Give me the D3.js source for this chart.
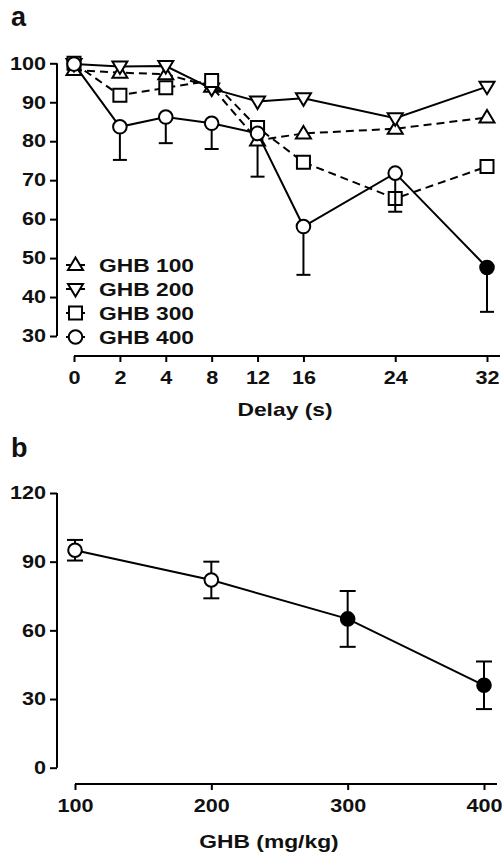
<!DOCTYPE html>
<html>
<head>
<meta charset="utf-8">
<script src="https://cdn.jsdelivr.net/npm/d3@7"></script>
<style>
  html, body { margin: 0; padding: 0; background: #fff; }
  svg { display: block; }
  text { font-family: "Liberation Sans", Arial, Helvetica, sans-serif; font-weight: bold; fill: #111; }
</style>
</head>
<body>
<svg id="chart" width="503" height="856"></svg>
<script>
// ---------- Data: panel a ----------
const delays = [0, 2, 4, 8, 12, 16, 24, 32];
const delaySlots = [0, 1, 2, 3, 4, 5, 7, 9]; // ordinal spacing used on the x axis
const ghb100 = [98.3, 97.6, 97.2, 94.0, 80.2, 82.0, 83.2, 86.1];
const ghb100Err = [0, 0, 0, 0, 9.3, 0, 0, 0];
const ghb200 = [99.8, 99.2, 99.3, 93.5, 90.2, 91.0, 85.9, 94.0];
const ghb300 = [100, 91.8, 93.7, 95.6, 83.5, 74.6, 65.3, 73.5];
const ghb400 = [99.8, 83.7, 86.2, 84.6, 82.0, 58.1, 71.8, 47.6];
const ghb400Err = [0, 8.5, 6.7, 6.6, 0, 12.4, 9.9, 11.4];
const ghb400Sig = [false, false, false, false, false, false, false, true];
const seriesNames = ["GHB 100", "GHB 200", "GHB 300", "GHB 400"];
const yTicksA = [30, 40, 50, 60, 70, 80, 90, 100];

// ---------- Data: panel b ----------
const doses = [100, 200, 300, 400];
const doseMeans = [95.0, 82.0, 65.0, 36.0];
const doseErr = [4.5, 8.0, 12.2, 10.4];
const doseSig = [false, false, true, true];
const yTicksB = [0, 30, 60, 90, 120];

const svg = d3.select("#chart");

// ---------- Marker shapes ----------
function markerPath(type) {
  if (type === "up") return "M0,-7.5L7.5,5L-7.5,5Z";
  if (type === "down") return "M0,7.5L7.5,-5L-7.5,-5Z";
  if (type === "square") return "M-6.5,-6.5H6.5V6.5H-6.5Z";
  return null;
}
function drawMarker(g, type, x, y, filled) {
  if (type === "circle") {
    g.append("circle").attr("cx", x).attr("cy", y).attr("r", 6.8)
      .attr("fill", filled ? "#000" : "#fff").attr("stroke", "#000").attr("stroke-width", 2);
  } else {
    g.append("path").attr("d", markerPath(type))
      .attr("transform", `translate(${x},${y})`)
      .attr("fill", filled ? "#000" : "#fff").attr("stroke", "#000").attr("stroke-width", 2)
      .attr("stroke-linejoin", "miter");
  }
}

function styleAxis(g) {
  g.selectAll(".tick line").attr("stroke", "#000").attr("stroke-width", 2);
  g.selectAll(".tick text").style("font-size", "18px").style("font-weight", "bold")
    .style("font-family", '"Liberation Sans", Arial, sans-serif').attr("fill", "#111")
    .classed("wide", true);
  g.select(".domain").remove();
}

// ================= Panel a =================
const xA = d3.scaleLinear()
  .domain(delays)
  .range(delaySlots.map(s => 74 + s * (413 / 9)));
const yA = d3.scaleLinear().domain([30, 100]).range([336, 63.3]);

svg.append("text").attr("x", 11).attr("y", 26).style("font-size", "27px").text("a");

// y axis
const yAxisA = svg.append("g").attr("transform", "translate(57,0)")
  .call(d3.axisLeft(yA).tickValues(yTicksA).tickSize(7).tickPadding(4).tickFormat(d3.format("d")));
styleAxis(yAxisA);
yAxisA.append("line").attr("x1", 0).attr("x2", 0).attr("y1", yA(100)).attr("y2", yA(30))
  .attr("stroke", "#000").attr("stroke-width", 2);

// x axis
const xAxisA = svg.append("g").attr("transform", "translate(0,356)")
  .call(d3.axisBottom(xA).tickValues(delays).tickSize(6).tickPadding(9).tickFormat(d3.format("d")));
styleAxis(xAxisA);
xAxisA.append("line").attr("x1", xA(0)).attr("x2", xA(32) + 13).attr("y1", 0).attr("y2", 0)
  .attr("stroke", "#000").attr("stroke-width", 2);

svg.append("text").attr("class", "wide").attr("x", 285).attr("y", 416).attr("text-anchor", "middle")
  .style("font-size", "19px").text("Delay (s)");

const seriesA = [
  { name: seriesNames[0], vals: ghb100, err: ghb100Err, type: "up", dash: "8,5" },
  { name: seriesNames[1], vals: ghb200, err: null, type: "down", dash: null },
  { name: seriesNames[2], vals: ghb300, err: null, type: "square", dash: "8,5" },
  { name: seriesNames[3], vals: ghb400, err: ghb400Err, type: "circle", dash: null, sig: ghb400Sig }
];

const lineA = d3.line().x(d => xA(d[0])).y(d => yA(d[1]));

seriesA.forEach(s => {
  const g = svg.append("g");
  const pts = delays.map((d, i) => [d, s.vals[i]]);
  g.append("path").attr("d", lineA(pts)).attr("fill", "none").attr("stroke", "#000")
    .attr("stroke-width", 2).attr("stroke-dasharray", s.dash);
  if (s.err) {
    delays.forEach((d, i) => {
      if (!s.err[i]) return;
      const x = xA(d), y0 = yA(s.vals[i]), y1 = yA(s.vals[i] - s.err[i]);
      g.append("line").attr("x1", x).attr("x2", x).attr("y1", y0).attr("y2", y1)
        .attr("stroke", "#000").attr("stroke-width", 2);
      g.append("line").attr("x1", x - 7).attr("x2", x + 7).attr("y1", y1).attr("y2", y1)
        .attr("stroke", "#000").attr("stroke-width", 2);
    });
  }
  delays.forEach((d, i) => drawMarker(g, s.type, xA(d), yA(s.vals[i]), s.sig ? s.sig[i] : false));
});

// legend
const legendRowY = d3.scalePoint().domain(seriesNames).range([265, 337]);
seriesA.forEach(s => {
  const cy = legendRowY(s.name);
  const g = svg.append("g");
  g.append("line").attr("x1", 66).attr("x2", 85).attr("y1", cy).attr("y2", cy)
    .attr("stroke", "#000").attr("stroke-width", 2);
  drawMarker(g, s.type, 75.5, cy, false);
  g.append("text").attr("class", "wide").attr("x", 99).attr("y", cy + 7)
    .style("font-size", "19px").text(s.name);
});

// ================= Panel b =================
const xB = d3.scaleLinear().domain([100, 400]).range([75, 484]);
const yB = d3.scaleLinear().domain([0, 120]).range([767.7, 493]);

svg.append("text").attr("x", 11).attr("y", 457).style("font-size", "27px").text("b");

const yAxisB = svg.append("g").attr("transform", "translate(57,0)")
  .call(d3.axisLeft(yB).tickValues(yTicksB).tickSize(7).tickPadding(4).tickFormat(d3.format("d")));
styleAxis(yAxisB);
yAxisB.append("line").attr("x1", 0).attr("x2", 0).attr("y1", yB(120)).attr("y2", yB(0))
  .attr("stroke", "#000").attr("stroke-width", 2);

const xAxisB = svg.append("g").attr("transform", "translate(0,784)")
  .call(d3.axisBottom(xB).tickValues(doses).tickSize(6).tickPadding(9).tickFormat(d3.format("d")));
styleAxis(xAxisB);
xAxisB.append("line").attr("x1", xB(100)).attr("x2", xB(400) + 13).attr("y1", 0).attr("y2", 0)
  .attr("stroke", "#000").attr("stroke-width", 2);

svg.append("text").attr("class", "wide").attr("x", 269).attr("y", 848).attr("text-anchor", "middle")
  .style("font-size", "19px").text("GHB (mg/kg)");

const gB = svg.append("g");
const lineB = d3.line().x(d => xB(d[0])).y(d => yB(d[1]));
gB.append("path").attr("d", lineB(doses.map((d, i) => [d, doseMeans[i]])))
  .attr("fill", "none").attr("stroke", "#000").attr("stroke-width", 2);
doses.forEach((d, i) => {
  const x = xB(d), yt = yB(doseMeans[i] + doseErr[i]), yb = yB(doseMeans[i] - doseErr[i]);
  gB.append("line").attr("x1", x).attr("x2", x).attr("y1", yt).attr("y2", yb)
    .attr("stroke", "#000").attr("stroke-width", 2);
  [yt, yb].forEach(yy => gB.append("line").attr("x1", x - 8).attr("x2", x + 8)
    .attr("y1", yy).attr("y2", yy).attr("stroke", "#000").attr("stroke-width", 2));
});
doses.forEach((d, i) => drawMarker(gB, "circle", xB(d), yB(doseMeans[i]), doseSig[i]));

// Stretch text horizontally (reference typeface is wider than Arial)
svg.selectAll("text.wide").each(function () {
  const w = this.getComputedTextLength();
  d3.select(this).attr("textLength", w * 1.2).attr("lengthAdjust", "spacingAndGlyphs");
});
</script>
</body>
</html>
